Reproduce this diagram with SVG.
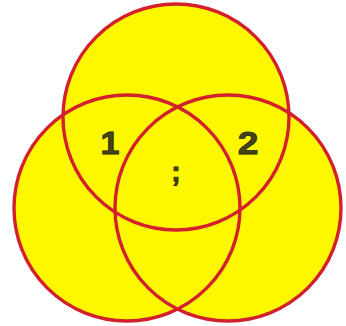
<svg xmlns="http://www.w3.org/2000/svg" width="346" height="326" viewBox="0 0 346 326">
<style>
.f{fill:#fdf800;stroke:none}
.s{fill:none;stroke:#d2202c;stroke-width:3.4}
.t{font-family:"Liberation Sans",Arial,sans-serif;font-weight:bold;fill:#44441a;stroke:#2a2a10;stroke-width:0.8;text-anchor:middle}
</style>
<rect width="346" height="326" fill="#ffffff"/>
<g id="fills">
<circle class="f" cx="176" cy="117" r="113"/>
<circle class="f" cx="127" cy="208" r="113"/>
<circle class="f" cx="228" cy="208" r="113"/>
</g>
<g id="outlines">
<circle class="s" cx="176" cy="117" r="113"/>
<circle class="s" cx="127" cy="208" r="113"/>
<circle class="s" cx="228" cy="208" r="113"/>
</g>
<g id="labels">
<text class="t" x="110" y="154" font-size="31" transform="translate(110 154) scale(1.1 1) translate(-110 -154)">1</text>
<text class="t" x="248" y="154" font-size="31" transform="translate(248 154) scale(1.2 1) translate(-248 -154)">2</text>
<text class="t" x="176" y="181" font-size="28">;</text>
</g>
</svg>
